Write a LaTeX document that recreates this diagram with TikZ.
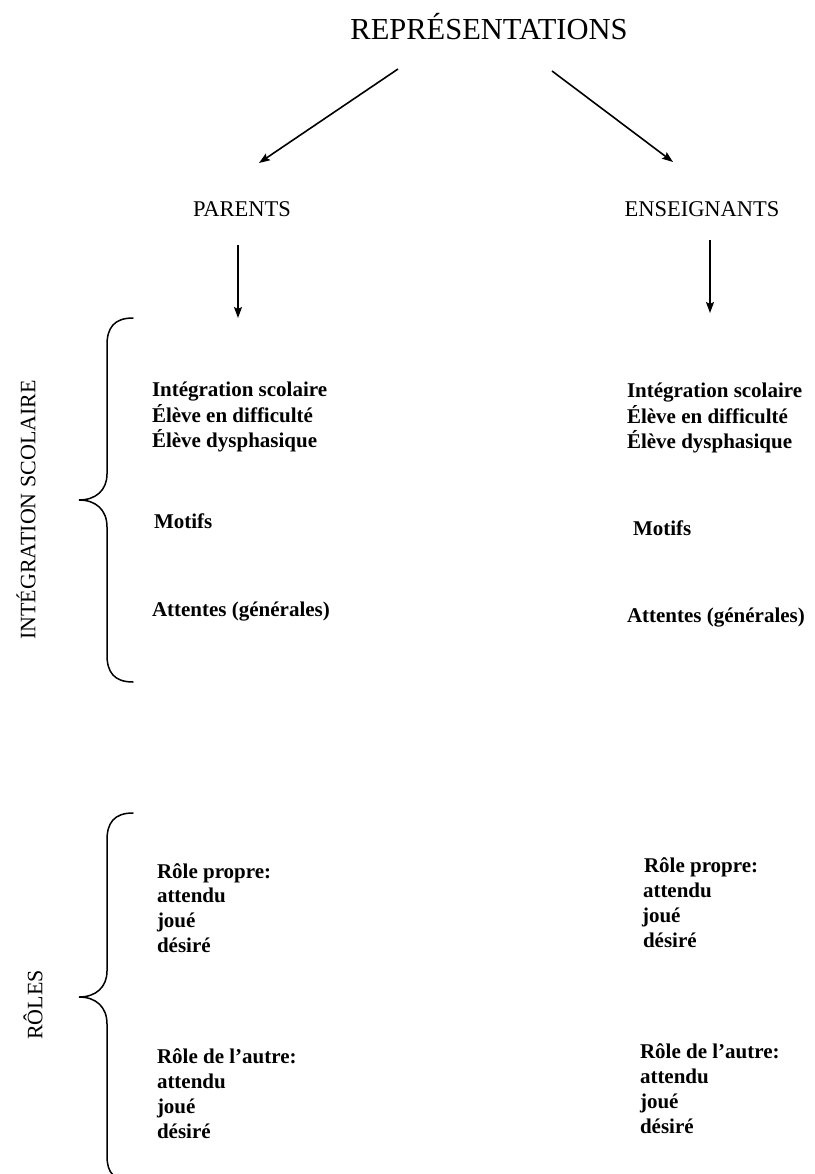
\documentclass[tikz,border=0pt]{standalone}
\usepackage{fontspec}
\setmainfont{Liberation Serif}
\usetikzlibrary{arrows.meta}
\begin{document}
\begin{tikzpicture}[x=1pt,y=-1pt,
  every node/.style={inner sep=0pt,outer sep=0pt},
  title/.style={font=\fontsize{30.5}{36}\selectfont,anchor=base},
  head/.style={font=\fontsize{22.5}{27}\selectfont,anchor=base},
  side/.style={font=\fontsize{22}{26}\selectfont,rotate=90},
  item/.style={font=\bfseries\fontsize{21}{25}\selectfont,anchor=base west},
  arr/.style={line width=1.6pt,-{Stealth[length=11pt,width=8pt,inset=2pt]}},
  brace/.style={line width=1.5pt,line cap=round}]
\useasboundingbox[fill=white] (0,0) rectangle (814,1174);

\node[title] (rep) at (489,40) {REPRÉSENTATIONS};
\node[head] (par) at (242,217) {PARENTS};
\node[head] (ens) at (702,217) {ENSEIGNANTS};

\coordinate (a1s) at (398,69);  \coordinate (a1e) at (259,163);
\coordinate (a2s) at (552,71);  \coordinate (a2e) at (673,162);
\coordinate (a3s) at (238,245); \coordinate (a3e) at (238,318);
\coordinate (a4s) at (710,240); \coordinate (a4e) at (710,313);
\draw[arr] (a1s) -- (a1e);
\draw[arr] (a2s) -- (a2e);
\draw[arr] (a3s) -- (a3e);
\draw[arr] (a4s) -- (a4e);

% braces
\draw[brace] (133,318) .. controls (114,318) and (107,328) .. (107,345)
  -- (107,474) .. controls (107,490) and (96,500) .. (79,500)
  .. controls (96,500) and (107,510) .. (107,527)
  -- (107,655) .. controls (107,672) and (114,682) .. (133,682);
\draw[brace] (133,813) .. controls (114,813) and (107,823) .. (107,840)
  -- (107,971) .. controls (107,987) and (96,997) .. (79,997)
  .. controls (96,997) and (107,1007) .. (107,1024)
  -- (107,1156) .. controls (107,1173) and (114,1181) .. (133,1181);

\node[side] (is) at (26,510) {INTÉGRATION SCOLAIRE};
\node[side] (ro) at (33,1005) {RÔLES};

% left column, block 1
\node[item] (l1) at (152,396) {Intégration scolaire};
\node[item] (l2) at (152,422) {Élève en difficulté};
\node[item] (l3) at (152,447) {Élève dysphasique};
\node[item] (l4) at (154,528) {Motifs};
\node[item] (l5) at (152,616) {Attentes (générales)};
% right column, block 1
\node[item] (r1) at (627,397) {Intégration scolaire};
\node[item] (r2) at (627,423) {Élève en difficulté};
\node[item] (r3) at (627,448) {Élève dysphasique};
\node[item] (r4) at (633,535) {Motifs};
\node[item] (r5) at (627,622) {Attentes (générales)};

% left column, block 2
\node[item] (l6) at (157,878) {Rôle propre:};
\node[item] (l7) at (157,902) {attendu};
\node[item] (l8) at (157,927) {joué};
\node[item] (l9) at (157,952) {désiré};
\node[item] (l10) at (157,1063) {Rôle de l'autre:};
\node[item] (l11) at (157,1088) {attendu};
\node[item] (l12) at (157,1113) {joué};
\node[item] (l13) at (157,1138) {désiré};
% right column, block 2
\node[item] (r6) at (644,872) {Rôle propre:};
\node[item] (r7) at (643,897) {attendu};
\node[item] (r8) at (642,922) {joué};
\node[item] (r9) at (643,947) {désiré};
\node[item] (r10) at (640,1058) {Rôle de l'autre:};
\node[item] (r11) at (640,1083) {attendu};
\node[item] (r12) at (640,1108) {joué};
\node[item] (r13) at (640,1133) {désiré};
\end{tikzpicture}
\end{document}
